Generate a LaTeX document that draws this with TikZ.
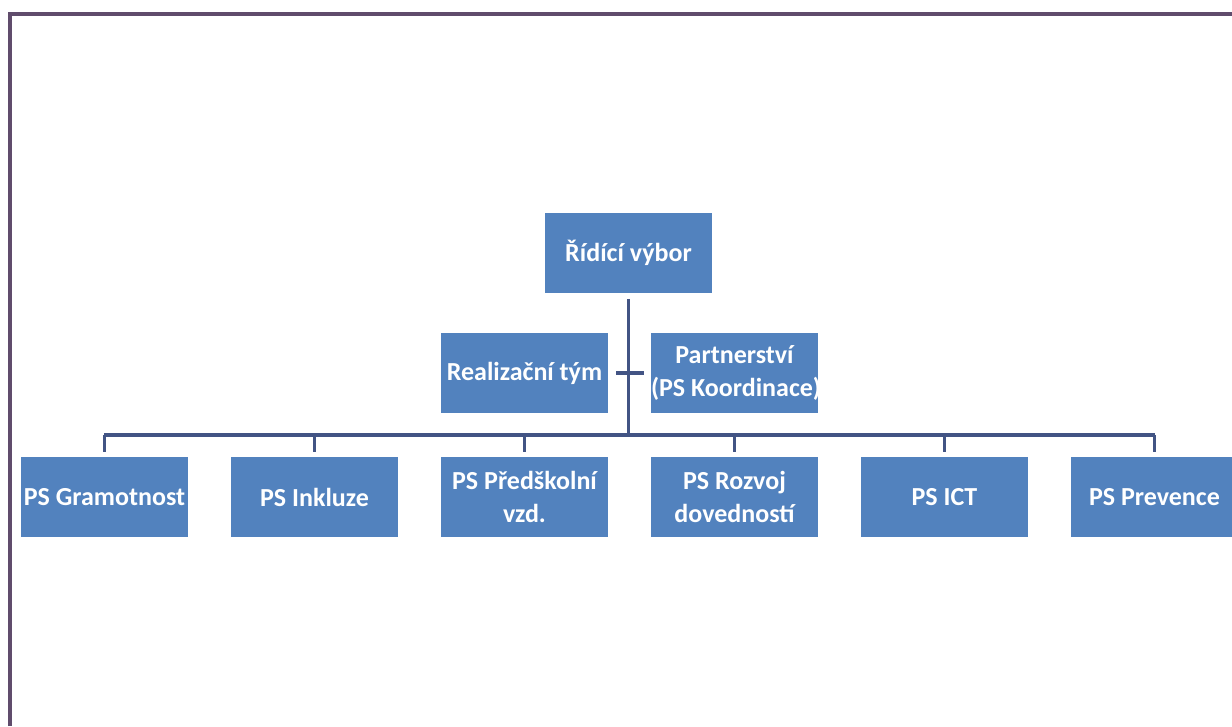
\documentclass[tikz,border=0pt]{standalone}
\usepackage{fontspec}
\setmainfont{Carlito}
\usepackage{tikz}
\usetikzlibrary{%
   matrix,%
   positioning%
}
\definecolor{boxblue}{RGB}{82,130,190}
\definecolor{linkblue}{RGB}{66,84,132}
\definecolor{framepurple}{RGB}{96,76,108}

\begin{document}
\begin{tikzpicture}[x=0.25mm,y=-0.25mm,
	orgbox/.style={
	rectangle,
	minimum width=41.75mm,
	minimum height=20mm,
	inner sep=0pt,
	fill=boxblue,
	text=white,
	align=center,
	font=\fontsize{18.5}{23.5}\selectfont\bfseries
	},link/.style={
	line width=0.8mm,draw=linkblue
	},frame/.style={
	line width=0.8mm,draw=framepurple
	}
]
\useasboundingbox (0,0) rectangle (1232,726);

% frame
\draw[frame] (10,726) |- (1232,14);

% top
\node (atomRV) [orgbox] at (628.5,252.5) {Řídící výbor};

\matrix[row sep=11mm,column sep=10.75mm] at (629.5,435) {
 & & \node (atomReal) [orgbox] {Realizační tým}; & \node (atomPart) [orgbox] {Partnerství\\\makebox[41.75mm][l]{(PS Koordinace)}}; & & \\
% working groups
\node (atomGram) [orgbox] {PS Gramotnost}; & \node (atomIncl) [orgbox] {PS Inkluze}; & \node (atomPre) [orgbox] {PS Předškolní\\vzd.}; & \node (atomDev) [orgbox] {PS Rozvoj\\dovedností}; & \node (atomICT) [orgbox] {PS ICT}; & \node (atomPrev) [orgbox] {PS Prevence}; \\
};

\coordinate (bus) at (atomRV.south |- 0,435);

\draw[link, shorten <=1.5mm] (atomRV.south) -- (bus);
\draw[link, shorten <=2mm, shorten >=1.75mm] (atomReal) -- (atomPart);
\draw[link, line join=miter] (atomGram.north |- bus) -- (atomPrev.north |- bus);
\foreach \n in {atomGram,atomIncl,atomPre,atomDev,atomICT,atomPrev}
	\draw[link, shorten <=1.25mm] (\n.north) -- (\n.north |- bus);

\end{tikzpicture}
\end{document}
